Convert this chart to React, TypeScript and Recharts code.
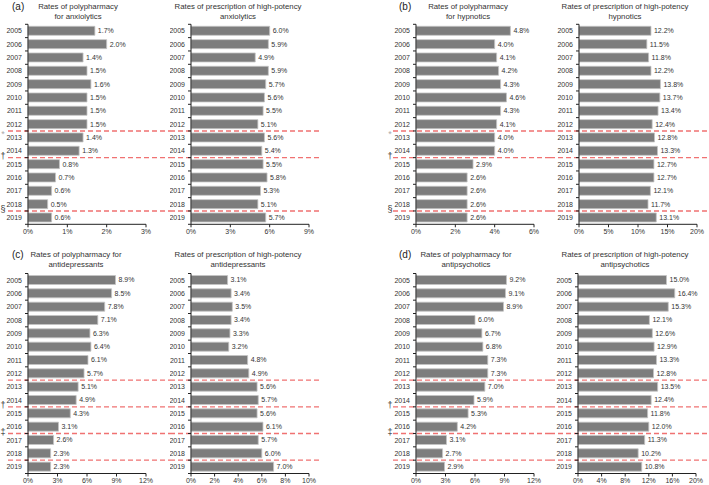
import React from 'react';
import { BarChart, Bar, XAxis, YAxis, ReferenceLine, LabelList } from 'recharts';

const years = ['2005', '2006', '2007', '2008', '2009', '2010', '2011', '2012', '2013', '2014', '2015', '2016', '2017', '2018', '2019'];

// (a) anxiolytics
const anxPoly = [1.7, 2.0, 1.4, 1.5, 1.6, 1.5, 1.5, 1.5, 1.4, 1.3, 0.8, 0.7, 0.6, 0.5, 0.6];
const anxHigh = [6.0, 5.9, 4.9, 5.9, 5.7, 5.6, 5.5, 5.1, 5.6, 5.4, 5.5, 5.8, 5.3, 5.1, 5.7];
// (b) hypnotics
const hypPoly = [4.8, 4.0, 4.1, 4.2, 4.3, 4.6, 4.3, 4.1, 4.0, 4.0, 2.9, 2.6, 2.6, 2.6, 2.6];
const hypHigh = [12.2, 11.5, 11.8, 12.2, 13.8, 13.7, 13.4, 12.4, 12.8, 13.3, 12.7, 12.7, 12.1, 11.7, 13.1];
// (c) antidepressants
const depPoly = [8.9, 8.5, 7.8, 7.1, 6.3, 6.4, 6.1, 5.7, 5.1, 4.9, 4.3, 3.1, 2.6, 2.3, 2.3];
const depHigh = [3.1, 3.4, 3.5, 3.4, 3.3, 3.2, 4.8, 4.9, 5.6, 5.7, 5.6, 6.1, 5.7, 6.0, 7.0];
// (d) antipsychotics
const psyPoly = [9.2, 9.1, 8.9, 6.0, 6.7, 6.8, 7.3, 7.3, 7.0, 5.9, 5.3, 4.2, 3.1, 2.7, 2.9];
const psyHigh = [15.0, 16.4, 15.3, 12.1, 12.6, 12.9, 13.3, 12.8, 13.5, 12.4, 11.8, 12.0, 11.3, 10.2, 10.8];

const anxPolyTicks = [0, 1, 2, 3];
const anxHighTicks = [0, 3, 6, 9];
const hypPolyTicks = [0, 2, 4, 6];
const hypHighTicks = [0, 5, 10, 15, 20];
const depPolyTicks = [0, 3, 6, 9, 12];
const depHighTicks = [0, 2, 4, 6, 8, 10];
const psyPolyTicks = [0, 3, 6, 9, 12];
const psyHighTicks = [0, 4, 8, 12, 16, 20];

// first year after each policy break
const marksAB = [{ year: '2013', sym: '*' }, { year: '2015', sym: '†' }, { year: '2019', sym: '§' }];
const marksCD = [{ year: '2013', sym: '' }, { year: '2015', sym: '†' }, { year: '2017', sym: '‡' }, { year: '2019', sym: '' }];

const FONT = '"Liberation Sans", Arial, Helvetica, sans-serif';
const PLOT_H = 200;
const PLOT_W = 118;
const STEP = PLOT_H / years.length;

const YearTick = (props: any) => {
  const { x, y, payload } = props;
  const ax = x + 6;
  const last = payload.value === years[years.length - 1];
  return (
    <g>
      <line x1={ax - 3} x2={ax} y1={y - STEP / 2} y2={y - STEP / 2} stroke="#222" />
      {last && <line x1={ax - 3} x2={ax} y1={y + STEP / 2} y2={y + STEP / 2} stroke="#222" />}
      <text x={x} y={y} dy="0.35em" textAnchor="end" fontSize={7} fill="#333" fontFamily={FONT}>
        {payload.value}
      </text>
    </g>
  );
};

interface SubProps {
  values: number[];
  ticks: number[];
  left: number;
  top: number;
  width: number;
  height: number;
  mTop: number;
  axisW: number;
  marks: { year: string; sym: string }[];
  dashFrom: number;
  dashTo: number;
  symX?: number;
}

const SubChart: React.FC<SubProps> = ({ values, ticks, left, top, width, height, mTop, axisW, marks, dashFrom, dashTo, symX }) => {
  const data = years.map((year, i) => ({ year, v: values[i] }));
  const from = Math.max(dashFrom - left, 0);
  const to = Math.min(dashTo - left, width);
  return (
    <div style={{ position: 'absolute', left, top }}>
      <BarChart
        width={width}
        height={height}
        data={data}
        layout="vertical"
        barCategoryGap="15%"
        margin={{ top: mTop, right: width - axisW - PLOT_W, bottom: 0, left: 0 }}
        style={{ overflow: 'visible' }}
      >
        <XAxis
          type="number"
          domain={[0, ticks[ticks.length - 1]]}
          ticks={ticks}
          tickFormatter={(v) => `${v}%`}
          tickSize={3}
          tickMargin={2}
          height={height - mTop - PLOT_H}
          stroke="#222"
          tick={{ fontSize: 7, fill: '#333', fontFamily: FONT }}
          interval={0}
        />
        <YAxis
          type="category"
          dataKey="year"
          width={axisW}
          tickLine={false}
          tickSize={3}
          tickMargin={3}
          stroke="#222"
          tick={<YearTick />}
          interval={0}
        />
        <Bar dataKey="v" fill="#7d7d7d" stroke="#c4c4c4" strokeWidth={0.8} isAnimationActive={false}>
          <LabelList
            dataKey="v"
            position="right"
            offset={3}
            formatter={(v: any) => `${Number(v).toFixed(1)}%`}
            fontSize={7}
            fill="#333"
            fontFamily={FONT}
          />
        </Bar>
        {marks.map((m) => (
          <ReferenceLine
            key={m.year}
            y={m.year}
            position="start"
            shape={(p: any) => (
              <g>
                <line x1={from} x2={to} y1={p.y1} y2={p.y1} stroke="#f07272" strokeWidth={1.4} strokeDasharray="5 3" />
                {symX !== undefined && m.sym && (
                  <text
                    x={symX - left}
                    y={m.sym === '*' ? p.y1 + 3 : p.y1 - 1.5}
                    dominantBaseline="central"
                    textAnchor="middle"
                    fontSize={m.sym === '*' ? 9 : 9}
                    fill={m.sym === '*' ? '#aaa' : '#333'}
                    fontFamily={FONT}
                  >
                    {m.sym}
                  </text>
                )}
              </g>
            )}
          />
        ))}
      </BarChart>
    </div>
  );
};

const Title: React.FC<{ cx: number; y: number; lines: string[] }> = ({ cx, y, lines }) => (
  <div style={{ position: 'absolute', left: cx - 100, top: y, width: 200, textAlign: 'center', fontSize: 7.8, lineHeight: '10px', color: '#333', fontFamily: FONT }}>
    {lines.map((l) => (
      <div key={l}>{l}</div>
    ))}
  </div>
);

const Letter: React.FC<{ x: number; y: number; t: string }> = ({ x, y, t }) => (
  <div style={{ position: 'absolute', left: x, top: y, fontSize: 10, lineHeight: '12px', color: '#222', fontFamily: FONT }}>{t}</div>
);

export default function App() {
  const topRow = { top: 0, height: 240, mTop: 24.3 };
  const botRow = { top: 240, height: 245, mTop: 33.5 };
  return (
    <div style={{ position: 'absolute', left: 0, top: 0, width: 709, height: 485, background: '#fff', overflow: 'hidden' }}>
      <Letter x={12} y={1} t="(a)" />
      <Title cx={78} y={1.5} lines={['Rates of polypharmacy', 'for anxiolytics']} />
      <Title cx={238} y={1.5} lines={['Rates of prescription of high-potency', 'anxiolytics']} />
      <SubChart values={anxPoly} ticks={anxPolyTicks} left={0} width={170} axisW={28} marks={marksAB} dashFrom={8} dashTo={322} symX={3} {...topRow} />
      <SubChart values={anxHigh} ticks={anxHighTicks} left={170} width={160} axisW={21} marks={marksAB} dashFrom={8} dashTo={322} {...topRow} />

      <Letter x={399} y={1} t="(b)" />
      <Title cx={468} y={1.5} lines={['Rates of polypharmacy', 'for hypnotics']} />
      <Title cx={625} y={1.5} lines={['Rates of prescription of high-potency', 'hypnotics']} />
      <SubChart values={hypPoly} ticks={hypPolyTicks} left={350} width={200} axisW={66} marks={marksAB} dashFrom={393} dashTo={709} symX={390} {...topRow} />
      <SubChart values={hypHigh} ticks={hypHighTicks} left={550} width={159} axisW={29} marks={marksAB} dashFrom={393} dashTo={709} {...topRow} />

      <Letter x={12} y={249} t="(c)" />
      <Title cx={76} y={250} lines={['Rates of polypharmacy for', 'antidepressants']} />
      <Title cx={238} y={250} lines={['Rates of prescription of high-potency', 'antidepressants']} />
      <SubChart values={depPoly} ticks={depPolyTicks} left={0} width={170} axisW={28} marks={marksCD} dashFrom={8} dashTo={322} symX={3} {...botRow} />
      <SubChart values={depHigh} ticks={depHighTicks} left={170} width={160} axisW={21} marks={marksCD} dashFrom={8} dashTo={322} {...botRow} />

      <Letter x={399} y={249} t="(d)" />
      <Title cx={466} y={250} lines={['Rates of polypharmacy for', 'antipsychotics']} />
      <Title cx={625} y={250} lines={['Rates of prescription of high-potency', 'antipsychotics']} />
      <SubChart values={psyPoly} ticks={psyPolyTicks} left={350} width={200} axisW={66} marks={marksCD} dashFrom={393} dashTo={709} symX={390} {...botRow} />
      <SubChart values={psyHigh} ticks={psyHighTicks} left={550} width={159} axisW={28} marks={marksCD} dashFrom={393} dashTo={709} {...botRow} />
    </div>
  );
}
